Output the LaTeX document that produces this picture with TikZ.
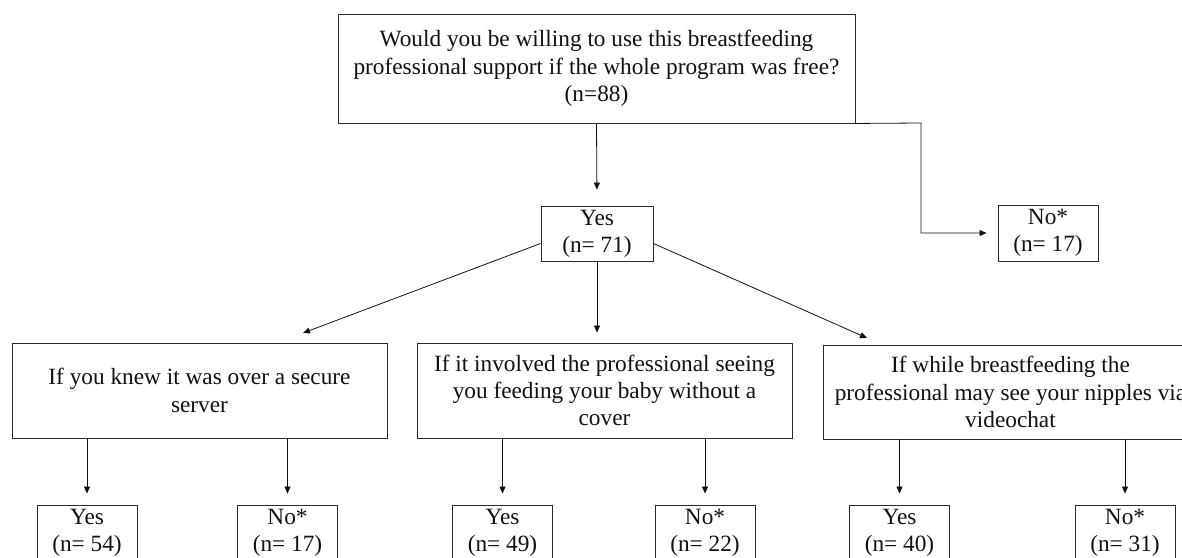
\documentclass[tikz,border=0pt]{standalone}
\usepackage{fontspec}
\setmainfont{Liberation Serif}
\usepackage{xcolor}
\usetikzlibrary{arrows.meta}
\definecolor{ink}{HTML}{111111}
\definecolor{frame}{HTML}{2B2B2B}
\tikzset{
  box/.style={draw=frame, line width=0.9pt, rectangle, align=center, inner sep=0pt, text=ink, font=\fontsize{23.3}{27.3}\selectfont},
  qbox/.style={box, minimum width=375pt, minimum height=95pt},
  abox/.style={box, minimum width=100pt, minimum height=55pt},
  arr/.style={draw=ink, line width=0.8pt, -{Triangle[length=7pt,width=6pt]}},
}

\begin{document}
\begin{tikzpicture}[x=1pt,y=-1pt]
  \useasboundingbox (0,0) rectangle (1182,557);
  \fill[white] (0,0) rectangle (1182,557);
  \clip (0,0) rectangle (1182,557);
  \def\rq{390.5} \def\ra{532.5}
  % question and first split
  \node[box, minimum width=517pt, minimum height=109pt] (q0) at (596.5,68.5)
    {Would you be willing to use this breastfeeding\\professional support if the whole program was free?\\(n=88)};
  \node[box, minimum width=112pt, minimum height=55pt] (yes0) at (597,233.5) {Yes\\(n= 71)};
  \node[abox, minimum height=56pt] (no0) at (1048,233) {No*\\(n= 17)};
  % follow-up questions
  \node[qbox] (qa) at (199.5,\rq) {If you knew it was over a secure\\server};
  \node[qbox] (qb) at (604.5,\rq) {If it involved the professional seeing\\you feeding your baby without a\\cover};
  \node[qbox, minimum height=94pt] (qc) at (1010.5,392) {If while breastfeeding the\\professional may see your nipples via\\videochat};
  % answers
  \node[abox] (ya) at (87,\ra) {Yes\\(n= 54)};
  \node[abox] (na) at (287.5,\ra) {No*\\(n= 17)};
  \node[abox] (yb) at (502.5,\ra) {Yes\\(n= 49)};
  \node[abox] (nb) at (705,\ra) {No*\\(n= 22)};
  \node[abox] (yc) at (899.5,\ra) {Yes\\(n= 40)};
  \node[abox] (nc) at (1125,\ra) {No*\\(n= 31)};
  % connectors
  \coordinate (bend) at (921,123);
  \coordinate (tipa) at (303,333);
  \coordinate (tipc) at (867,338);
  \draw[arr, shorten >=16pt] (q0.south) -- (yes0.north);
  \draw[arr, shorten >=11pt] (q0.south east) -- (bend) |- (no0.west);
  \draw[arr] ([yshift=-10pt]yes0.west) -- (tipa);
  \draw[arr, shorten >=10pt] (yes0.south) -- (yes0 |- qb.north);
  \draw[arr] ([yshift=-10pt]yes0.east) -- (tipc);
  \foreach \q/\a in {qa/ya, qa/na, qb/yb, qb/nb, qc/yc, qc/nc}
    \draw[arr, shorten >=11pt] (\a |- \q.south) -- (\a.north);
\end{tikzpicture}
\end{document}
